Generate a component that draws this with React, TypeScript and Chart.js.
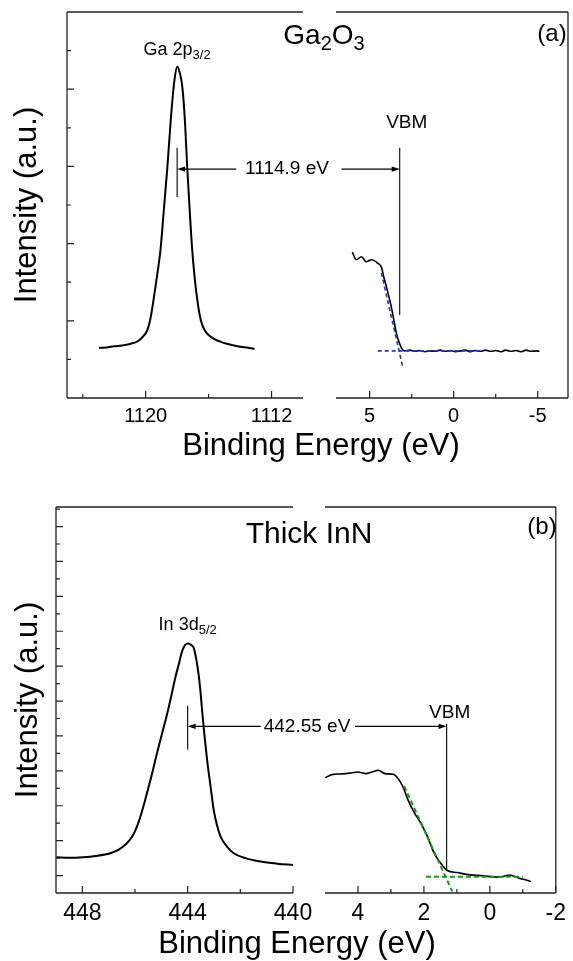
import React, { useEffect, useRef } from 'react';
import { Chart, registerables } from 'chart.js';

Chart.register(...registerables);

const FONT = '"Liberation Sans", Arial, Helvetica, sans-serif';
const PAGE_W = 573;
const PAGE_H = 961;
const X_AXIS_H = 40;

// ---------------- Panel (a): Ga2O3 ----------------
const gaCoreX = [1122.97, 1122.5, 1122.0, 1121.5, 1121.0, 1120.5, 1120.2, 1119.9, 1119.7, 1119.5, 1119.3, 1119.06, 1118.85, 1118.62, 1118.45, 1118.3, 1118.15, 1117.99, 1117.85, 1117.67, 1117.5, 1117.36, 1117.2, 1117.04, 1116.8, 1116.5, 1116.2, 1115.9, 1115.6, 1115.25, 1114.9, 1114.47, 1114.0, 1113.5, 1113.08];
const gaCoreY = [1.3, 1.31, 1.34, 1.36, 1.4, 1.47, 1.58, 1.75, 2.05, 2.54, 3.1, 3.83, 4.85, 5.98, 6.95, 7.72, 8.3, 8.58, 8.45, 8.06, 7.15, 5.98, 4.85, 3.83, 2.8, 2.02, 1.72, 1.6, 1.52, 1.46, 1.41, 1.37, 1.33, 1.3, 1.27];
const gaVbX = [6.03, 5.79, 5.49, 5.2, 4.9, 4.51, 4.3, 4.15, 4.0, 3.85, 3.71, 3.55, 3.41, 3.25, 3.11, 2.92, 2.6, 2.3, 2.0, 1.7, 1.4, 1.1, 0.8, 0.5, 0.2, -0.1, -0.4, -0.7, -1.0, -1.3, -1.6, -1.9, -2.2, -2.5, -2.8, -3.1, -3.4, -3.7, -4.0, -4.3, -4.6, -4.9, -5.1];
const gaVbY = [3.78, 3.58, 3.66, 3.53, 3.58, 3.49, 3.39, 3.12, 2.88, 2.62, 2.36, 2.0, 1.68, 1.45, 1.3, 1.22, 1.24, 1.21, 1.23, 1.2, 1.22, 1.21, 1.24, 1.21, 1.23, 1.2, 1.22, 1.24, 1.2, 1.23, 1.21, 1.24, 1.21, 1.23, 1.2, 1.24, 1.21, 1.23, 1.2, 1.24, 1.21, 1.22, 1.21];
const gaFitSlopeX = [4.3, 3.02];
const gaFitSlopeY = [3.24, 0.78];
const gaFitFlatX = [4.52, -1.55];
const gaFitFlatY = [1.22, 1.22];
const gaCoreLevel = 1118.0;
const gaVbm = 3.21;
const gaMarkerY = [5.21, 6.48];
const gaVbmY = [2.15, 6.48];
const gaArrowY = 5.93;
const gaArrowLeftFrom = 1114.24;
const gaArrowRightFrom = 6.67;
const gaSeparation = '1114.9 eV';
const gaLeftTicks = [1124, 1120, 1116, 1112];
const gaLeftLabels = ['', '1120', '', '1112'];
const gaRightTicks = [5, 2.5, 0, -2.5, -5];
const gaRightLabels = ['5', '', '0', '', '-5'];
const gaYTicks = [1, 2, 3, 4, 5, 6, 7, 8, 9];
const gaYMajor = [2, 4, 6, 8];

// ---------------- Panel (b): Thick InN ----------------
const inCoreX = [448.98, 448.5, 447.96, 447.5, 446.94, 446.6, 446.31, 446.1, 445.93, 445.75, 445.55, 445.35, 445.17, 444.98, 444.78, 444.62, 444.47, 444.33, 444.21, 444.1, 443.98, 443.87, 443.77, 443.7, 443.62, 443.53, 443.45, 443.36, 443.26, 443.13, 443.01, 442.88, 442.75, 442.5, 442.25, 441.8, 441.23, 440.6, 440.0];
const inCoreY = [2.05, 2.02, 2.05, 2.12, 2.28, 2.5, 2.85, 3.25, 3.79, 4.6, 5.7, 6.85, 7.98, 9.1, 10.26, 11.3, 12.34, 13.15, 13.86, 14.2, 14.3, 14.22, 14.05, 13.6, 12.91, 11.8, 10.44, 9.0, 7.6, 6.1, 4.75, 3.85, 3.23, 2.65, 2.28, 2.0, 1.8, 1.68, 1.61];
const inVbX = [4.99, 4.76, 4.55, 4.37, 4.2, 4.0, 3.77, 3.55, 3.38, 3.18, 2.93, 2.78, 2.63, 2.48, 2.28, 2.09, 1.89, 1.69, 1.49, 1.29, 0.99, 0.6, 0.2, -0.2, -0.4, -0.59, -0.75, -0.89, -1.05, -1.24];
const inVbY = [6.61, 6.8, 6.82, 6.84, 6.88, 6.93, 6.84, 6.95, 7.03, 6.84, 6.8, 6.55, 6.07, 5.32, 4.56, 3.99, 3.23, 2.28, 1.71, 1.29, 1.17, 1.04, 0.99, 0.91, 0.95, 1.03, 0.95, 0.85, 0.77, 0.66];
const inFitSlopeX = [2.6, 1.14];
const inFitSlopeY = [6.13, 0.09];
const inFitFlatX = [1.94, -1.0];
const inFitFlatY = [0.93, 0.93];
const inCoreLevel = 444.0;
const inVbm = 1.31;
const inMarkerY = [8.22, 10.73];
const inVbmY = [1.29, 9.7];
const inArrowY = 9.55;
const inArrowLeftFrom = 441.23;
const inArrowRightFrom = 4.09;
const inSeparation = '442.55 eV';
const inLeftTicks = [448, 446, 444, 442, 440];
const inLeftLabels = ['448', '', '444', '', '440'];
const inRightTicks = [4, 3, 2, 1, 0, -1, -2];
const inRightLabels = ['4', '', '2', '', '0', '', '-2'];
const inYTicks = Array.from({ length: 22 }, (_, i) => i + 1);
const inYMajor = [1, 3, 5, 7, 9, 11, 13, 15, 17, 19, 21];

const X_TITLE = 'Binding Energy (eV)';
const Y_TITLE = 'Intensity (a.u.)';

// ---------------- helpers ----------------
type Pt = { x: number; y: number };
const pts = (xs: number[], ys: number[]): Pt[] => xs.map((x, i) => ({ x, y: ys[i] }));

function seg(ctx: CanvasRenderingContext2D, x1: number, y1: number, x2: number, y2: number, w = 1.1) {
  ctx.save();
  ctx.strokeStyle = '#000';
  ctx.lineWidth = w;
  ctx.beginPath();
  ctx.moveTo(x1, y1);
  ctx.lineTo(x2, y2);
  ctx.stroke();
  ctx.restore();
}

function arrow(ctx: CanvasRenderingContext2D, xFrom: number, xTo: number, y: number) {
  const dir = Math.sign(xTo - xFrom) || 1;
  seg(ctx, xFrom, y, xTo - dir * 3, y, 1.1);
  ctx.save();
  ctx.fillStyle = '#000';
  ctx.beginPath();
  ctx.moveTo(xTo, y);
  ctx.lineTo(xTo - dir * 8, y - 2.6);
  ctx.lineTo(xTo - dir * 8, y + 2.6);
  ctx.closePath();
  ctx.fill();
  ctx.restore();
}

function text(ctx: CanvasRenderingContext2D, s: string, x: number, y: number, size: number, align: CanvasTextAlign = 'center', baseline: CanvasTextBaseline = 'alphabetic') {
  ctx.save();
  ctx.fillStyle = '#000';
  ctx.font = `${size}px ${FONT}`;
  ctx.textAlign = align;
  ctx.textBaseline = baseline;
  ctx.fillText(s, x, y);
  ctx.restore();
}

type Part = { t: string; sub?: boolean };
function rich(ctx: CanvasRenderingContext2D, parts: Part[], cx: number, y: number, size: number) {
  const subSize = Math.round(size * 0.7);
  ctx.save();
  ctx.fillStyle = '#000';
  ctx.textAlign = 'left';
  ctx.textBaseline = 'alphabetic';
  const widths = parts.map((p) => {
    ctx.font = `${p.sub ? subSize : size}px ${FONT}`;
    return ctx.measureText(p.t).width;
  });
  let x = cx - widths.reduce((a, b) => a + b, 0) / 2;
  parts.forEach((p, i) => {
    ctx.font = `${p.sub ? subSize : size}px ${FONT}`;
    ctx.fillText(p.t, x, p.sub ? y + size * 0.22 : y);
    x += widths[i];
  });
  ctx.restore();
}

// ---------------- sub-plot configuration ----------------
interface SubCfg {
  key: string;
  side: 'left' | 'right';
  area: { left: number; right: number; top: number; bottom: number };
  xMin: number;
  xMax: number;
  xTicks: number[];
  xLabels: string[];
  yMin: number;
  yMax: number;
  yTicks: number[];
  yMajor: number[];
  tickSize: number;
  tickPad: number;
  yTitlePad: number;
  datasets: any[];
  annotate: (ctx: CanvasRenderingContext2D, xs: any, ys: any) => void;
}

const curve = (data: Pt[], width = 2) => ({
  data,
  borderColor: '#000',
  borderWidth: width,
  pointRadius: 0,
  cubicInterpolationMode: 'monotone',
  fill: false,
});
const fit = (data: Pt[], color: string, width: number, dash: number[]) => ({
  data,
  borderColor: color,
  borderWidth: width,
  borderDash: dash,
  pointRadius: 0,
  tension: 0,
  fill: false,
});

const BLUE = '#2b37b8';
const GREEN = '#1c961c';

const subs: SubCfg[] = [
  {
    key: 'aL',
    side: 'left',
    area: { left: 67, right: 303, top: 12, bottom: 398 },
    xMin: 1110, xMax: 1125,
    xTicks: gaLeftTicks, xLabels: gaLeftLabels,
    yMin: 0, yMax: 10, yTicks: gaYTicks, yMajor: gaYMajor,
    tickSize: 20, tickPad: 6, yTitlePad: 9,
    datasets: [curve(pts(gaCoreX, gaCoreY), 2)],
    annotate: (ctx, xs, ys) => {
      const mx = xs.getPixelForValue(gaCoreLevel);
      seg(ctx, mx, ys.getPixelForValue(gaMarkerY[0]), mx, ys.getPixelForValue(gaMarkerY[1]));
      const ay = ys.getPixelForValue(gaArrowY);
      arrow(ctx, xs.getPixelForValue(gaArrowLeftFrom), mx, ay);
      text(ctx, gaSeparation, 287, ay, 19, 'center', 'middle');
      rich(ctx, [{ t: 'Ga 2p' }, { t: '3/2', sub: true }], mx, 55, 18);
      rich(ctx, [{ t: 'Ga' }, { t: '2', sub: true }, { t: 'O' }, { t: '3', sub: true }], 324, 44, 28);
      text(ctx, X_TITLE, 321, 455, 31);
    },
  },
  {
    key: 'aR',
    side: 'right',
    area: { left: 336, right: 568, top: 12, bottom: 398 },
    xMin: -6.8, xMax: 7,
    xTicks: gaRightTicks, xLabels: gaRightLabels,
    yMin: 0, yMax: 10, yTicks: gaYTicks, yMajor: gaYMajor,
    tickSize: 20, tickPad: 6, yTitlePad: 0,
    datasets: [
      fit(pts(gaFitSlopeX, gaFitSlopeY), BLUE, 1.6, [4, 3]),
      fit(pts(gaFitFlatX, gaFitFlatY), BLUE, 1.6, [4, 3]),
      curve(pts(gaVbX, gaVbY), 1.6),
    ],
    annotate: (ctx, xs, ys) => {
      const vx = xs.getPixelForValue(gaVbm);
      seg(ctx, vx, ys.getPixelForValue(gaVbmY[0]), vx, ys.getPixelForValue(gaVbmY[1]));
      arrow(ctx, xs.getPixelForValue(gaArrowRightFrom), vx, ys.getPixelForValue(gaArrowY));
      text(ctx, 'VBM', vx + 7, 128, 19);
      text(ctx, '(a)', 552, 34, 24, 'center', 'middle');
    },
  },
  {
    key: 'bL',
    side: 'left',
    area: { left: 56, right: 293, top: 507, bottom: 893 },
    xMin: 440, xMax: 449,
    xTicks: inLeftTicks, xLabels: inLeftLabels,
    yMin: 0, yMax: 22.12, yTicks: inYTicks, yMajor: inYMajor,
    tickSize: 23, tickPad: 7, yTitlePad: 10,
    datasets: [curve(pts(inCoreX, inCoreY), 2)],
    annotate: (ctx, xs, ys) => {
      const mx = xs.getPixelForValue(inCoreLevel);
      seg(ctx, mx, ys.getPixelForValue(inMarkerY[0]), mx, ys.getPixelForValue(inMarkerY[1]));
      const ay = ys.getPixelForValue(inArrowY);
      arrow(ctx, xs.getPixelForValue(inArrowLeftFrom), mx, ay);
      text(ctx, inSeparation, 307, ay, 19, 'center', 'middle');
      rich(ctx, [{ t: 'In 3d' }, { t: '5/2', sub: true }], mx, 630, 18);
      text(ctx, 'Thick InN', 309, 543, 30);
      text(ctx, X_TITLE, 297, 953, 31);
    },
  },
  {
    key: 'bR',
    side: 'right',
    area: { left: 325, right: 561, top: 507, bottom: 893 },
    xMin: -2, xMax: 5,
    xTicks: inRightTicks, xLabels: inRightLabels,
    yMin: 0, yMax: 22.12, yTicks: inYTicks, yMajor: inYMajor,
    tickSize: 23, tickPad: 7, yTitlePad: 0,
    datasets: [
      fit(pts(inFitSlopeX, inFitSlopeY), GREEN, 2, [5, 3]),
      fit(pts(inFitFlatX, inFitFlatY), GREEN, 2, [5, 3]),
      curve(pts(inVbX, inVbY), 1.6),
    ],
    annotate: (ctx, xs, ys) => {
      const vx = xs.getPixelForValue(inVbm);
      seg(ctx, vx, ys.getPixelForValue(inVbmY[0]), vx, ys.getPixelForValue(inVbmY[1]));
      arrow(ctx, xs.getPixelForValue(inArrowRightFrom), vx, ys.getPixelForValue(inArrowY));
      text(ctx, 'VBM', vx + 3, 718, 19);
      text(ctx, '(b)', 542, 527, 24, 'center', 'middle');
    },
  },
];

function SubChart({ cfg }: { cfg: SubCfg }) {
  const ref = useRef<HTMLCanvasElement>(null);
  useEffect(() => {
    const canvas = ref.current;
    if (!canvas) return;
    const framePlugin = {
      id: 'frame_' + cfg.key,
      afterDraw(chart: any) {
        const ctx: CanvasRenderingContext2D = chart.ctx;
        const xs = chart.scales.x;
        const ys = chart.scales.y;
        const { left, right, top, bottom } = chart.chartArea;
        ctx.save();
        ctx.strokeStyle = '#222';
        ctx.lineWidth = 1.3;
        ctx.beginPath();
        ctx.moveTo(left, top);
        ctx.lineTo(right, top);
        ctx.moveTo(left, bottom);
        ctx.lineTo(right, bottom);
        if (cfg.side === 'left') {
          ctx.moveTo(left, top);
          ctx.lineTo(left, bottom);
        } else {
          ctx.moveTo(right, top);
          ctx.lineTo(right, bottom);
        }
        ctx.stroke();
        ctx.lineWidth = 1.2;
        ctx.beginPath();
        cfg.xTicks.forEach((v, i) => {
          const px = xs.getPixelForValue(v);
          const len = cfg.xLabels[i] ? 7 : 4;
          ctx.moveTo(px, bottom);
          ctx.lineTo(px, bottom - len);
        });
        if (cfg.side === 'left') {
          cfg.yTicks.forEach((v) => {
            const py = ys.getPixelForValue(v);
            const len = cfg.yMajor.includes(v) ? 7 : 4;
            ctx.moveTo(left, py);
            ctx.lineTo(left + len, py);
          });
        }
        ctx.stroke();
        ctx.restore();
        cfg.annotate(ctx, xs, ys);
      },
    };
    const isLeft = cfg.side === 'left';
    const chart = new Chart(canvas, {
      type: 'line',
      data: { datasets: cfg.datasets },
      options: {
        animation: false,
        responsive: false,
        devicePixelRatio: 1,
        events: [],
        layout: {
          padding: {
            left: isLeft ? 0 : cfg.area.left,
            right: PAGE_W - cfg.area.right,
            top: cfg.area.top,
            bottom: PAGE_H - cfg.area.bottom - X_AXIS_H,
          },
        },
        plugins: {
          legend: { display: false },
          tooltip: { enabled: false },
          title: { display: false },
        },
        elements: { point: { radius: 0 } },
        scales: {
          x: {
            type: 'linear',
            min: cfg.xMin,
            max: cfg.xMax,
            reverse: true,
            afterBuildTicks: (s: any) => {
              s.ticks = cfg.xTicks.map((v) => ({ value: v }));
            },
            afterFit: (s: any) => {
              s.height = X_AXIS_H;
            },
            ticks: {
              autoSkip: false,
              maxRotation: 0,
              minRotation: 0,
              padding: cfg.tickPad,
              color: '#000',
              font: { family: FONT, size: cfg.tickSize },
              callback: (v: any) => {
                const i = cfg.xTicks.indexOf(Number(v));
                return i >= 0 ? cfg.xLabels[i] : '';
              },
            },
            grid: { display: false, drawTicks: false },
            border: { display: false },
          },
          y: {
            type: 'linear',
            display: isLeft,
            min: cfg.yMin,
            max: cfg.yMax,
            afterBuildTicks: (s: any) => {
              s.ticks = cfg.yTicks.map((v) => ({ value: v }));
            },
            afterFit: (s: any) => {
              s.width = isLeft ? cfg.area.left : 0;
            },
            ticks: { display: false },
            grid: { display: false, drawTicks: false },
            border: { display: false },
            title: {
              display: isLeft,
              text: Y_TITLE,
              color: '#000',
              font: { family: FONT, size: 31 },
              padding: { top: cfg.yTitlePad, bottom: 0 },
            },
          },
        },
      } as any,
      plugins: [framePlugin],
    });
    return () => chart.destroy();
  }, [cfg]);
  return (
    <canvas
      ref={ref}
      width={PAGE_W}
      height={PAGE_H}
      style={{ position: 'absolute', left: 0, top: 0, width: PAGE_W, height: PAGE_H }}
    />
  );
}

export default function App() {
  return (
    <div style={{ position: 'absolute', left: 0, top: 0, width: PAGE_W, height: PAGE_H, background: '#fff', overflow: 'hidden' }}>
      {subs.map((cfg) => (
        <SubChart key={cfg.key} cfg={cfg} />
      ))}
    </div>
  );
}
